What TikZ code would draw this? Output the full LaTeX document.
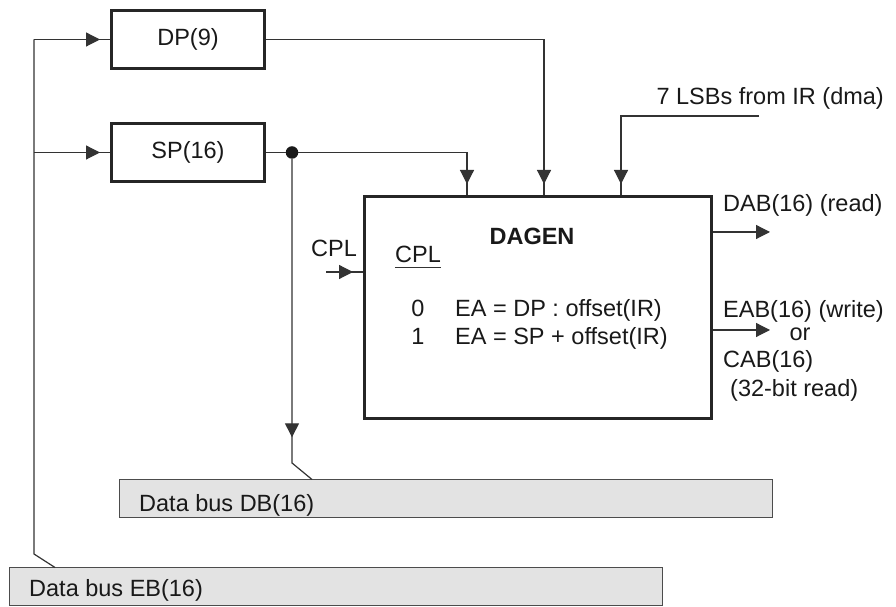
\documentclass[tikz,border=0pt]{standalone}
\usepackage{fontspec}
\setmainfont{Liberation Sans}
\usetikzlibrary{arrows.meta, positioning, decorations.markings}

\begin{document}
\begin{tikzpicture}[
    x=1pt, y=1pt,
    every node/.style={font=\fontsize{23.5}{28}\selectfont, inner sep=0pt, text=black!90},
    reg/.style={draw=black!85, line width=3pt, minimum width=153pt, minimum height=58pt},
    unit/.style={draw=black!85, line width=3pt, minimum width=347pt, minimum height=222pt},
    bus/.style={draw=black!70, fill=black!11, line width=1pt, minimum width=653pt, minimum height=38pt},
    wire/.style={draw=black!80, line width=1.2pt},
    tipend/.style={-{Triangle[length=14pt, width=14pt]}},
    arrowat/.style={postaction={decorate, decoration={markings,
        mark=at position #1 with {\arrow{Triangle[length=14pt, width=14pt]}}}}},
    junction/.style={circle, fill=black!90, minimum size=12.5pt}
]
\useasboundingbox (0,0) rectangle (896,607);

% Registers
\node[reg] (dp) at (188,567.5) {DP(9)};
\node[reg] (sp) at (188,454.5) {SP(16)};

% Address generator
\node[unit] (dagen) at (538,299.5) {};
\node[font=\fontsize{23.5}{28}\selectfont\bfseries, anchor=base] (title) at (532,362) {DAGEN};
\node[anchor=base] (sel) at (418,344) {CPL};
\draw[line width=1pt, black!80] ([yshift=-5pt]sel.base west) -- ([yshift=-5pt]sel.base east);
\node[anchor=base] (zero) at (418,290) {0};
\node[anchor=base] (one) at (418,262) {1};
\node[anchor=base west] (eadp) at (455,290) {EA = DP : offset(IR)};
\node[anchor=base west] (easp) at (455,262) {EA = SP + offset(IR)};

% Buses
\node[bus] (db) at (446,108) {};
\node[anchor=base west] (dbname) at (139,95) {Data bus DB(16)};
\node[bus] (eb) at (336,20) {};
\node[anchor=base west] (ebname) at (29,10) {Data bus EB(16)};

% Bus EB feeding DP and SP
\coordinate (l1) at (34,567.5);
\coordinate (l2) at (34,454.5);
\coordinate (l3) at (34,53);
\draw[wire] (l1) -- (l3) -- ([xshift=46pt]eb.north west);
\draw[wire, arrowat=-10pt] (l1) -- (dp.west);
\draw[wire, arrowat=-10pt] (l2) -- (sp.west);

% DP and SP into DAGEN
\draw[wire, arrowat=-11pt] (dp.east) -| ([xshift=6pt]dagen.north);
\node[junction] (spdot) at (292,454.5) {};
\draw[wire] (sp.east) -- (spdot);
\draw[wire, arrowat=-11pt] (spdot) -| ([xshift=-71pt]dagen.north);
\coordinate (dbkink) at (292,144);
\draw[wire, arrowat=-51.6pt] (spdot) -- (dbkink) -- ([xshift=193pt]db.north west);

% 7 LSBs from IR
\coordinate (ir) at (759,491);
\node[anchor=base east] (irname) at (884,502) {7 LSBs from IR (dma)};
\draw[wire, arrowat=-11pt] (ir) -| ([xshift=83pt]dagen.north);

% CPL input
\coordinate (cplin) at (326,335);
\node[anchor=base] (cpl) at (334,350) {CPL};
\draw[wire, arrowat=-10pt] (cplin) -- (cplin -| dagen.west);

% Outputs
\coordinate (dab) at (770,375);
\coordinate (eab) at (770,277);
\draw[wire, tipend] (dab -| dagen.east) -- (dab);
\draw[wire, tipend] (eab -| dagen.east) -- (eab);
\node[anchor=base west] (dabname) at (723,395) {DAB(16) (read)};
\node[anchor=base west] (eabname) at (723,289) {EAB(16) (write)};
\node[anchor=base] (orname) at (800,266) {or};
\node[anchor=base west] (cabname) at (723,239) {CAB(16)};
\node[anchor=base west] (readname) at (730,210) {(32-bit read)};

\end{tikzpicture}
\end{document}
